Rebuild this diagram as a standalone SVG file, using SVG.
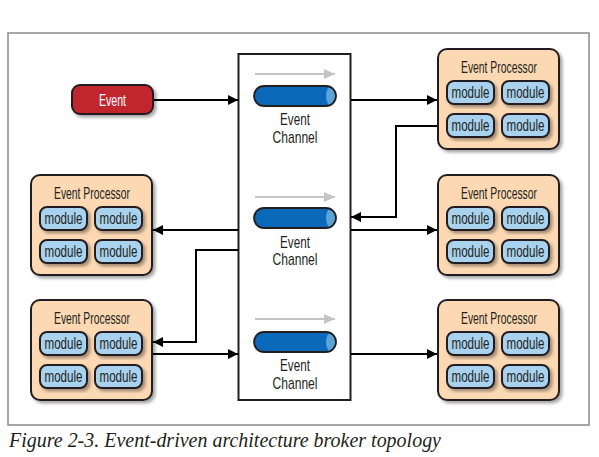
<svg xmlns="http://www.w3.org/2000/svg" width="599" height="457" viewBox="0 0 599 457">
<style>
.frame{fill:#fff;stroke:#8a8a8a;stroke-width:1.5}
.chan{fill:#fff;stroke:#231f20;stroke-width:2}
.proc{fill:#fcd9b3;stroke:#231f20;stroke-width:2}
.mod{fill:#a8d2ee;stroke:#231f20;stroke-width:2}
.evt{fill:#c1272d;stroke:#231f20;stroke-width:2}
.cyl{fill:#0a69b8}
.cylo{fill:none;stroke:#231f20;stroke-width:1.8}
.cap{fill:#5aa3d6}
.garrow{stroke:#c4c4c4;stroke-width:2;fill:none}
.conn{stroke:#000;stroke-width:2;fill:none;marker-end:url(#ah)}
.t{font-family:"Liberation Sans",Arial,sans-serif;fill:#231f20;text-anchor:middle}
.tp{font-size:16px}
.tm{font-size:16px}
.tc{font-size:17px}
.cap-text{font-family:"Liberation Serif","Times New Roman",serif;font-style:italic;font-size:21px;fill:#231f20}
</style>
<defs>
<filter id="sh" x="-20%" y="-20%" width="140%" height="140%">
<feDropShadow dx="2.5" dy="2.5" stdDeviation="1.8" flood-color="#000" flood-opacity="0.35"/>
</filter>
<marker id="ah" markerUnits="userSpaceOnUse" markerWidth="11" markerHeight="11" refX="10" refY="5" orient="auto">
<path d="M0,0 L10,5 L0,10 z" fill="#000"/>
</marker>
<marker id="gh" markerUnits="userSpaceOnUse" markerWidth="12" markerHeight="12" refX="11" refY="5" orient="auto">
<path d="M0,0 L11,5 L0,10 z" fill="#c4c4c4"/>
</marker>
<clipPath id="cylclip">
<rect x="0" y="0" width="82" height="20" rx="10"/>
</clipPath>
<g id="cylinder">
<rect class="cyl" x="0" y="0" width="82" height="20" rx="10"/>
<path class="cap" d="M77,0 A5,10 0 0 0 77,20 H84 V0 z" clip-path="url(#cylclip)"/>
<rect class="cylo" x="0" y="0" width="82" height="20" rx="10"/>
</g>
<g id="modules">
<rect class="mod" x="9" y="32" width="47" height="23" rx="7" filter="url(#sh)"/>
<text class="t tm" x="32.5" y="49" textLength="38" lengthAdjust="spacingAndGlyphs">module</text>
<rect class="mod" x="64" y="32" width="47" height="23" rx="7" filter="url(#sh)"/>
<text class="t tm" x="87.5" y="49" textLength="38" lengthAdjust="spacingAndGlyphs">module</text>
<rect class="mod" x="9" y="65" width="47" height="23" rx="7" filter="url(#sh)"/>
<text class="t tm" x="32.5" y="82" textLength="38" lengthAdjust="spacingAndGlyphs">module</text>
<rect class="mod" x="64" y="65" width="47" height="23" rx="7" filter="url(#sh)"/>
<text class="t tm" x="87.5" y="82" textLength="38" lengthAdjust="spacingAndGlyphs">module</text>
</g>
</defs>

<rect class="frame" x="8" y="33" width="581" height="392"/>

<g id="channels">
<rect class="chan" x="238.5" y="54" width="112" height="346"/>
<g id="channel1">
<path class="garrow" d="M255,74 H335" marker-end="url(#gh)"/>
<use href="#cylinder" transform="translate(254,86)"/>
<text class="t tc" x="295" y="125" textLength="30" lengthAdjust="spacingAndGlyphs">Event</text>
<text class="t tc" x="295" y="142.5" textLength="45" lengthAdjust="spacingAndGlyphs">Channel</text>
</g>
<g id="channel2">
<path class="garrow" d="M255,197 H335" marker-end="url(#gh)"/>
<use href="#cylinder" transform="translate(254,208)"/>
<text class="t tc" x="295" y="247.5" textLength="30" lengthAdjust="spacingAndGlyphs">Event</text>
<text class="t tc" x="295" y="265" textLength="45" lengthAdjust="spacingAndGlyphs">Channel</text>
</g>
<g id="channel3">
<path class="garrow" d="M255,319 H335" marker-end="url(#gh)"/>
<use href="#cylinder" transform="translate(254,332)"/>
<text class="t tc" x="295" y="371" textLength="30" lengthAdjust="spacingAndGlyphs">Event</text>
<text class="t tc" x="295" y="388.5" textLength="45" lengthAdjust="spacingAndGlyphs">Channel</text>
</g>
</g>

<g id="event">
<rect class="evt" x="72" y="85" width="81" height="29" rx="8" filter="url(#sh)"/>
<text class="t" x="112.5" y="105.5" font-size="16" style="fill:#fff" textLength="27" lengthAdjust="spacingAndGlyphs">Event</text>
</g>

<g id="proc-r1" transform="translate(438,49)">
<rect class="proc" x="0" y="0" width="121" height="100" rx="9" filter="url(#sh)"/>
<text class="t tp" x="61" y="24" textLength="76" lengthAdjust="spacingAndGlyphs">Event Processor</text>
<use href="#modules"/>
</g>
<g id="proc-r2" transform="translate(438,175)">
<rect class="proc" x="0" y="0" width="121" height="100" rx="9" filter="url(#sh)"/>
<text class="t tp" x="61" y="24" textLength="76" lengthAdjust="spacingAndGlyphs">Event Processor</text>
<use href="#modules"/>
</g>
<g id="proc-r3" transform="translate(438,300)">
<rect class="proc" x="0" y="0" width="121" height="100" rx="9" filter="url(#sh)"/>
<text class="t tp" x="61" y="24" textLength="76" lengthAdjust="spacingAndGlyphs">Event Processor</text>
<use href="#modules"/>
</g>
<g id="proc-l1" transform="translate(31,175)">
<rect class="proc" x="0" y="0" width="121" height="100" rx="9" filter="url(#sh)"/>
<text class="t tp" x="61" y="24" textLength="76" lengthAdjust="spacingAndGlyphs">Event Processor</text>
<use href="#modules"/>
</g>
<g id="proc-l2" transform="translate(31,300)">
<rect class="proc" x="0" y="0" width="121" height="100" rx="9" filter="url(#sh)"/>
<text class="t tp" x="61" y="24" textLength="76" lengthAdjust="spacingAndGlyphs">Event Processor</text>
<use href="#modules"/>
</g>

<g id="connectors">
<path class="conn" d="M154,100 H238"/>
<path class="conn" d="M351,100 H437"/>
<path class="conn" d="M437,126 H396 V217 H351"/>
<path class="conn" d="M351,230 H437"/>
<path class="conn" d="M238,230 H153"/>
<path class="conn" d="M238,250 H196 V342 H153"/>
<path class="conn" d="M153,354 H238"/>
<path class="conn" d="M351,354 H437"/>
</g>

<text class="cap-text" x="9" y="447" textLength="432" lengthAdjust="spacingAndGlyphs">Figure 2-3. Event-driven architecture broker topology</text>
</svg>
